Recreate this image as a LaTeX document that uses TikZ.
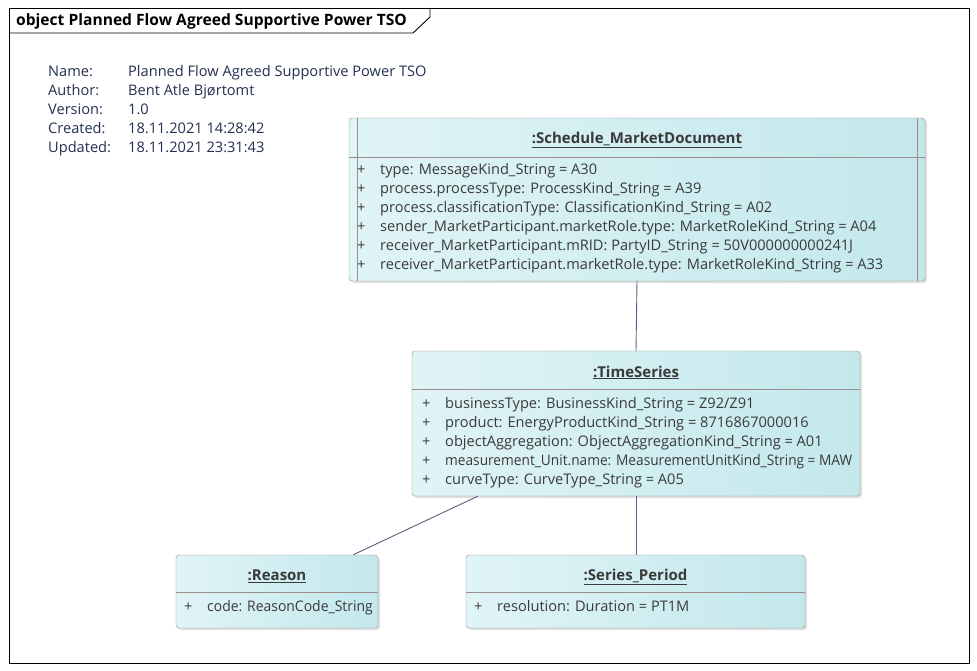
\documentclass[tikz,border=0pt]{standalone}
\usepackage{fontspec}
\setmainfont{Open Sans}
\usepackage{xcolor}
\usepackage{graphicx}
\usetikzlibrary{shadows,calc}
\definecolor{boxleft}{HTML}{E0F4F6}
\definecolor{boxright}{HTML}{C3E8EC}
\definecolor{boxline}{HTML}{9C8C8A}
\definecolor{linkline}{HTML}{5A6385}
\definecolor{metatext}{HTML}{233050}
\definecolor{attrtext}{HTML}{3A3A3A}
\newcommand{\att}[1]{\strut\makebox[23pt][l]{+}#1}
\newcommand{\squeeze}[2]{\scalebox{#1}[1]{#2}}
\newcommand{\mrow}[1]{\strut#1}

\begin{document}
\begin{tikzpicture}[x=1pt,y=-1pt,
  obox/.style={draw=boxline,rounded corners=3pt,left color=boxleft,right color=boxright,
               drop shadow={shadow xshift=2pt,shadow yshift=-2pt,opacity=0.25},inner sep=0pt},
  otitle/.style={font=\fontsize{15}{18}\selectfont\bfseries,text=attrtext,inner sep=0pt},
  oattr/.style={font=\fontsize{14.6}{19}\selectfont,text=attrtext,align=left,inner sep=0pt,anchor=west},
  sep/.style={draw=boxline},
  link/.style={draw=linkline,line width=0.9pt},
  meta/.style={font=\fontsize{14.6}{19}\selectfont,text=metatext,align=left,inner sep=0pt,anchor=west},
]
\useasboundingbox[fill=white] (0,0) rectangle (977,671);

% diagram frame
\draw[line width=0.9pt] (9,8) rectangle (969,663);
\draw[line width=0.9pt] (9,33) -- (413,33) -- (430,17) -- (430,8);
\node[anchor=west,inner sep=0pt,font=\fontsize{15.6}{18}\selectfont\bfseries] (frame) at (16,21)
  {object Planned Flow Agreed Supportive Power TSO};

% notes
\node[meta] (mlab) at (48,111) {\mrow{Name:}\\\mrow{Author:}\\\mrow{Version:}\\\mrow{Created:}\\\mrow{Updated:}};
\node[meta] (mval) at (128,111) {\mrow{Planned Flow Agreed Supportive Power TSO}\\\mrow{Bent Atle Bjørtomt}\\
  \mrow{1.0}\\\mrow{18.11.2021 14:28:42}\\\mrow{18.11.2021 23:31:43}};

% Schedule_MarketDocument
\node[obox,minimum width=576pt,minimum height=163pt] (smd) at (637,199.5) {};
\draw[sep] (smd.north west) ++(8,0) -- ($(smd.south west)+(8,0)$);
\draw[sep] (smd.north east) ++(-8,0) -- ($(smd.south east)+(-8,0)$);
\draw[sep] (smd.west |- 0,157) -- (smd.east |- 0,157);
\node[otitle] (smdt) at (637,139.5) {\underline{:Schedule\_MarketDocument}};
\node[oattr] (smda) at (357,218.5) {\att{type: MessageKind\_String = A30}\\
  \att{process.processType: ProcessKind\_String = A39}\\
  \att{process.classificationType: ClassificationKind\_String = A02}\\
  \att{sender\_MarketParticipant.marketRole.type: MarketRoleKind\_String = A04}\\
  \att{receiver\_MarketParticipant.mRID: PartyID\_String = 50V000000000241J}\\
  \att{receiver\_MarketParticipant.marketRole.type: MarketRoleKind\_String = A33}};

% TimeSeries
\node[obox,minimum width=448pt,minimum height=145pt] (ts) at (636,423.5) {};
\draw[sep] (ts.west |- 0,389) -- (ts.east |- 0,389);
\node[otitle] (tst) at (636,372.5) {\underline{:TimeSeries}};
\node[oattr] (tsa) at (422,443) {\att{businessType: BusinessKind\_String = Z92/Z91}\\
  \att{product: EnergyProductKind\_String = 8716867000016}\\
  \att{objectAggregation: ObjectAggregationKind\_String = A01}\\
  \att{\squeeze{0.938}{measurement\_Unit.name: MeasurementUnitKind\_String = MAW}}\\
  \att{curveType: CurveType\_String = A05}};

% Reason
\node[obox,minimum width=202pt,minimum height=73pt] (rs) at (277,591.5) {};
\draw[sep] (rs.west |- 0,592) -- (rs.east |- 0,592);
\node[otitle] (rst) at (277,576.5) {\underline{:Reason}};
\node[oattr] (rsa) at (184,608) {\att{\squeeze{0.955}{code: ReasonCode\_String}}};

% Series_Period
\node[obox,minimum width=339pt,minimum height=73pt] (sp) at (635.5,591.5) {};
\draw[sep] (sp.west |- 0,592) -- (sp.east |- 0,592);
\node[otitle] (spt) at (635.5,576.5) {\underline{:Series\_Period}};
\node[oattr] (spa) at (474,608) {\att{resolution: Duration = PT1M}};

% links
\draw[link] (smd.south) -- (ts.north);
\draw[link] (ts.south) -- (ts.south |- sp.north);
\draw[link] ([xshift=66pt]ts.south west) -- ([xshift=-25pt]rs.north east);
\end{tikzpicture}
\end{document}
